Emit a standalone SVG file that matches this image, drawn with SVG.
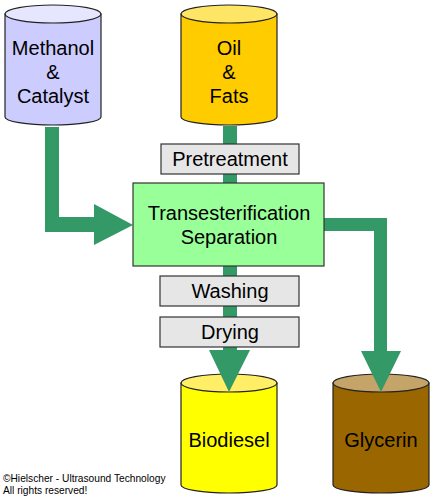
<svg xmlns="http://www.w3.org/2000/svg" width="433" height="500" viewBox="0 0 433 500">
<style>
.cyl{stroke:#222;stroke-width:1.2}
.lbl{font-family:"Liberation Sans",Arial,sans-serif;font-size:20px;fill:#000;text-anchor:middle}
.box{fill:#e6e6e6;stroke:#333;stroke-width:1.2}
.pipe{fill:#339966}
.copy{font-family:"Liberation Sans",Arial,sans-serif;font-size:10.2px;fill:#000}
</style>
<rect width="433" height="500" fill="#fff"/>
<g id="methanol">
<path class="cyl" fill="#ccccff" d="M5,14 L5,117 A48,8 0 0 0 101,117 L101,14 Z"/>
<ellipse class="cyl" fill="#e6e6ff" cx="53" cy="14" rx="48" ry="9"/>
<text class="lbl" x="53" y="55">Methanol</text>
<text class="lbl" x="53" y="79">&amp;</text>
<text class="lbl" x="53" y="103">Catalyst</text>
</g>
<g id="oil">
<path class="cyl" fill="#ffcc00" d="M181,14 L181,117 A48,8 0 0 0 277,117 L277,14 Z"/>
<ellipse class="cyl" fill="#ffe566" cx="229" cy="14" rx="48" ry="9"/>
<text class="lbl" x="229" y="55">Oil</text>
<text class="lbl" x="229" y="79">&amp;</text>
<text class="lbl" x="229" y="103">Fats</text>
</g>
<g id="biodiesel">
<path class="cyl" fill="#ffff00" d="M181,383 L181,485 A48,8 0 0 0 277,485 L277,383 Z"/>
<ellipse class="cyl" fill="#ffee66" cx="229" cy="383" rx="48" ry="9"/>
<text class="lbl" x="229" y="447">Biodiesel</text>
</g>
<g id="glycerin">
<path class="cyl" fill="#996600" d="M333,383 L333,485 A48,8 0 0 0 429,485 L429,383 Z"/>
<ellipse class="cyl" fill="#c4a468" cx="381" cy="383" rx="48" ry="9"/>
<text class="lbl" x="381" y="447">Glycerin</text>
</g>
<g id="connectors">
<path class="pipe" d="M45,127 H59 V217 H94 V204 L133,225 L94,245 V232 H45 Z"/>
<rect class="pipe" x="223" y="126" width="14" height="58"/>
<path class="pipe" d="M223,266 H237 V350 H250 L229,392 L209,350 H223 Z"/>
<path class="pipe" d="M324,218 H387 V351 H401 L381,392 L361,351 H374 V231 H324 Z"/>
</g>
<g id="pretreatment">
<rect class="box" x="161" y="144" width="138" height="30"/>
<text class="lbl" x="230" y="166">Pretreatment</text>
</g>
<g id="transesterification">
<rect fill="#99ff99" stroke="#333" stroke-width="1.2" x="133" y="183" width="191" height="83"/>
<text class="lbl" x="229" y="220">Transesterification</text>
<text class="lbl" x="229" y="244">Separation</text>
</g>
<g id="washing">
<rect class="box" x="160" y="276" width="139" height="30"/>
<text class="lbl" x="230" y="298">Washing</text>
</g>
<g id="drying">
<rect class="box" x="160" y="317" width="139" height="30"/>
<text class="lbl" x="230" y="339">Drying</text>
</g>
<g id="copyright">
<text class="copy" x="3" y="482">©Hielscher - Ultrasound Technology</text>
<text class="copy" x="3" y="494">All rights reserved!</text>
</g>
</svg>
